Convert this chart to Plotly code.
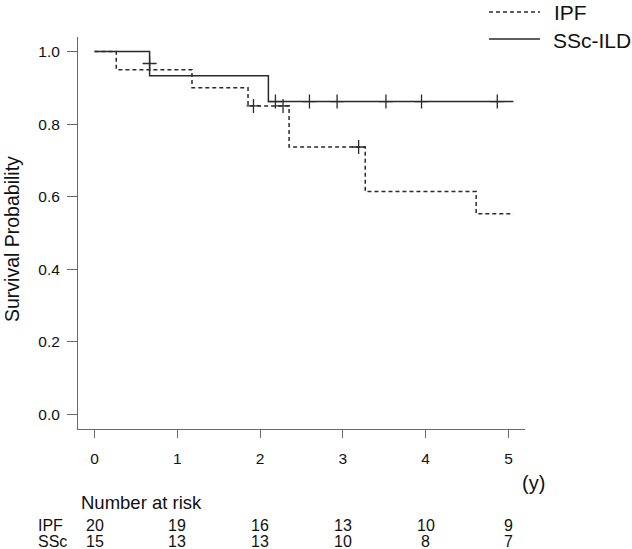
import plotly.graph_objects as go

# ---- data ----
ipf_time = [0, 0.262, 1.177, 1.854, 2.35, 3.27, 4.61, 5.06]
ipf_surv = [1.0, 0.95, 0.90, 0.85, 0.737, 0.614, 0.553, 0.553]
ipf_cens_time = [1.92, 2.277, 3.19]
ipf_cens_surv = [0.85, 0.85, 0.737]

ssc_time = [0, 0.665, 2.10, 5.06]
ssc_surv = [1.0, 0.933, 0.862, 0.862]
ssc_cens_time = [0.665, 2.185, 2.596, 2.93, 3.52, 3.95, 4.865]
ssc_cens_surv = [0.967, 0.862, 0.862, 0.862, 0.862, 0.862, 0.862]

risk_times = [0, 1, 2, 3, 4, 5]
risk_ipf = [20, 19, 16, 13, 10, 9]
risk_ssc = [15, 13, 13, 10, 8, 7]
x_ticks = [0, 1, 2, 3, 4, 5]
y_ticks = [0.0, 0.2, 0.4, 0.6, 0.8, 1.0]

FONT = "Liberation Sans, Arial, Helvetica, sans-serif"
LINE = "#2a2a2a"
AXIS = "#6a6a6a"
TXT = "#111111"

fig = go.Figure()
fig.add_trace(go.Scatter(x=ipf_time, y=ipf_surv, mode="lines", line_shape="hv",
                         line=dict(color=LINE, width=1.5, dash="4px,3px"),
                         name="IPF", showlegend=False, hoverinfo="skip"))
fig.add_trace(go.Scatter(x=ssc_time, y=ssc_surv, mode="lines", line_shape="hv",
                         line=dict(color=LINE, width=1.5),
                         name="SSc-ILD", showlegend=False, hoverinfo="skip"))
fig.add_trace(go.Scatter(x=ipf_cens_time, y=ipf_cens_surv, mode="markers",
                         marker=dict(symbol="cross-thin", size=10,
                                     line=dict(color=LINE, width=1.3)),
                         showlegend=False, hoverinfo="skip"))
fig.add_trace(go.Scatter(x=ssc_cens_time, y=ssc_cens_surv, mode="markers",
                         marker=dict(symbol="cross-thin", size=10,
                                     line=dict(color=LINE, width=1.3)),
                         showlegend=False, hoverinfo="skip"))

# margins / plot area
L, R, T, B = 78, 107, 37, 120
W, H = 632, 549
PW, PH = W - L - R, H - T - B

def px(xp):
    return (xp - L) / PW

def py(yp):
    return (H - B - yp) / PH

ROW_IPF, ROW_SSC = 524.5, 541
ROW_FONT = dict(size=16, color=TXT, family=FONT)

annotations = []
# number at risk table
annotations.append(dict(text="Number at risk", xref="paper", yref="paper",
                        x=px(79), y=py(502), xanchor="left", yanchor="middle",
                        showarrow=False, font=dict(size=18.5, color=TXT, family=FONT)))
annotations.append(dict(text="IPF", xref="paper", yref="paper", x=px(36), y=py(ROW_IPF),
                        xanchor="left", yanchor="middle", showarrow=False, height=16,
                        font=ROW_FONT))
annotations.append(dict(text="SSc", xref="paper", yref="paper", x=px(36), y=py(ROW_SSC),
                        xanchor="left", yanchor="middle", showarrow=False, height=16,
                        font=ROW_FONT))
for t, n in zip(risk_times, risk_ipf):
    annotations.append(dict(text=str(n), xref="x", yref="paper", x=t, y=py(ROW_IPF),
                            xanchor="center", yanchor="middle", showarrow=False, height=16,
                            font=ROW_FONT))
for t, n in zip(risk_times, risk_ssc):
    annotations.append(dict(text=str(n), xref="x", yref="paper", x=t, y=py(ROW_SSC),
                            xanchor="center", yanchor="middle", showarrow=False, height=16,
                            font=ROW_FONT))
# unit label
annotations.append(dict(text="(y)", xref="paper", yref="paper", x=px(533), y=py(483),
                        xanchor="center", yanchor="middle", showarrow=False,
                        font=dict(size=20, color=TXT, family=FONT)))
# y title
annotations.append(dict(text="Survival Probability", xref="paper", yref="paper",
                        x=px(12), y=py(239), xanchor="center", yanchor="middle",
                        textangle=-90, showarrow=False,
                        font=dict(size=19.5, color=TXT, family=FONT)))
# legend
annotations.append(dict(text="IPF", xref="paper", yref="paper", x=px(552), y=py(12),
                        xanchor="left", yanchor="middle", showarrow=False,
                        font=dict(size=21, color=TXT, family=FONT)))
annotations.append(dict(text="SSc-ILD", xref="paper", yref="paper", x=px(551), y=py(40),
                        xanchor="left", yanchor="middle", showarrow=False,
                        font=dict(size=21, color=TXT, family=FONT)))

shapes = [
    dict(type="line", xref="paper", yref="paper", x0=px(489), x1=px(540),
         y0=py(12), y1=py(12), line=dict(color=LINE, width=1.5, dash="4px,3px")),
    dict(type="line", xref="paper", yref="paper", x0=px(489), x1=px(540),
         y0=py(39), y1=py(39), line=dict(color=LINE, width=1.5)),
]

fig.update_layout(
    width=W, height=H,
    margin=dict(l=L, r=R, t=T, b=B, pad=0),
    paper_bgcolor="white", plot_bgcolor="white",
    font=dict(family=FONT, color=TXT, size=15),
    annotations=annotations, shapes=shapes,
    showlegend=False,
    xaxis=dict(range=[-0.2, 5.2], tickvals=x_ticks, ticktext=[str(v) for v in x_ticks],
               showgrid=False, zeroline=False, showline=True, linecolor=AXIS, linewidth=1,
               ticks="outside", ticklen=8, tickwidth=1, tickcolor=AXIS,
               tickfont=dict(size=15.5, color=TXT, family=FONT), ticklabelstandoff=7),
    yaxis=dict(range=[-0.04, 1.04], tickvals=y_ticks, ticktext=[f"{v:.1f}" for v in y_ticks],
               showgrid=False, zeroline=False, showline=True, linecolor=AXIS, linewidth=1,
               ticks="outside", ticklen=10, tickwidth=1, tickcolor=AXIS,
               tickfont=dict(size=15.5, color=TXT, family=FONT), ticklabelstandoff=4),
)

fig.write_html("out.html", config={"displayModeBar": False},
               post_script="document.body.style.margin='0px';document.body.style.padding='0px';document.body.style.overflow='hidden';")
